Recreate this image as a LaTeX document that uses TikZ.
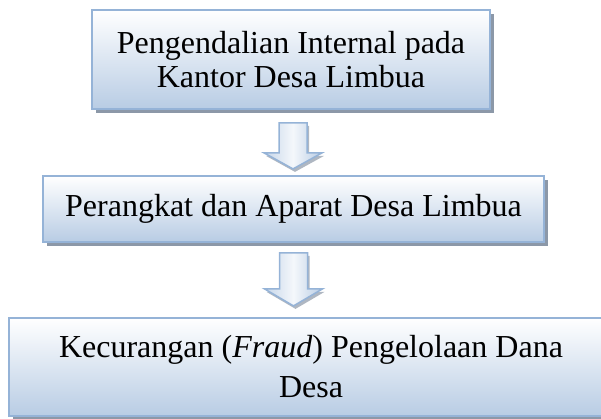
\documentclass[tikz,border=0pt]{standalone}
\usepackage{fontspec}
\setmainfont{Liberation Serif}
\usetikzlibrary{positioning,calc,shadows}

\definecolor{boxline}{RGB}{149,179,215}
\definecolor{boxfill}{RGB}{184,204,228}
\definecolor{boxshade}{RGB}{140,152,168}

\tikzset{
  flowbox/.style={draw=boxline,line width=1.8pt,top color=white,bottom color=boxfill,
    drop shadow={shadow xshift=3.5pt,shadow yshift=-4pt,fill=boxshade,opacity=1},
    inner sep=0pt,align=center,font=\fontsize{32}{34}\selectfont},
  blockarrow/.style={draw=boxline,line width=1.5pt,left color=boxfill!80,right color=boxfill,
    middle color=white!85!boxfill,line join=miter,
    drop shadow={shadow xshift=2pt,shadow yshift=-3pt,fill=boxshade!70,opacity=1}}
}

\begin{document}
\begin{tikzpicture}
  \useasboundingbox (0,0) rectangle (601pt,-419pt);
  \node[flowbox,minimum width=398pt,minimum height=99pt] (kantor) at (291pt,-59.5pt)
    {Pengendalian Internal pada\\Kantor Desa Limbua};
  \node[flowbox,minimum width=501pt,minimum height=66pt] (aparat) at (293.5pt,-209pt)
    {Perangkat dan Aparat Desa Limbua};
  \node[flowbox,minimum width=604pt,minimum height=98pt,
    font=\fontsize{32}{40}\selectfont] (fraud) at (311pt,-367pt)
    {Kecurangan (\textit{Fraud}) Pengelolaan Dana\\Desa};

  % arrows between the boxes
  \coordinate (top1) at ($(kantor.south)+(2pt,-13pt)$);
  \coordinate (top2) at ($(aparat.south)+(0,-10pt)$);
  \path[blockarrow] (top1) ++(-14pt,0) -- ++(28pt,0) -- ++(0,-30pt) -- ++(15pt,0)
    -- ++(-29pt,-16pt) -- ++(-29pt,16pt) -- ++(15pt,0) -- cycle;
  \path[blockarrow] (top2) ++(-14pt,0) -- ++(28pt,0) -- ++(0,-36pt) -- ++(15pt,0)
    -- ++(-29pt,-17pt) -- ++(-29pt,17pt) -- ++(15pt,0) -- cycle;
\end{tikzpicture}
\end{document}
